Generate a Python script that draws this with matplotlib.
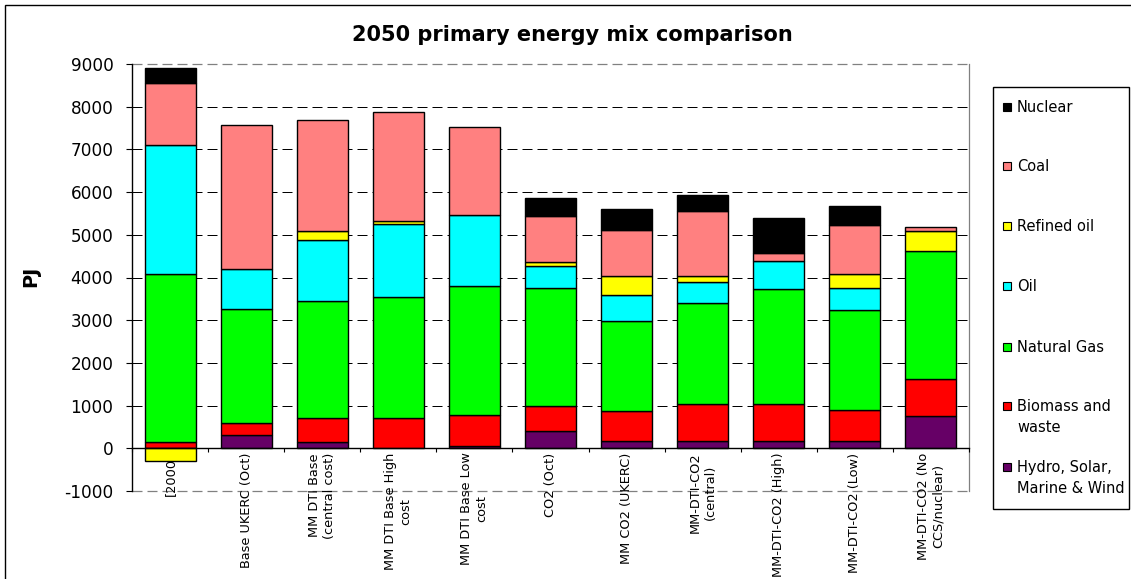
import matplotlib
matplotlib.use("Agg")
import matplotlib.pyplot as plt
from matplotlib.patches import Rectangle
import numpy as np

# ---------------- data ----------------
categories = ["[2000]", "Base UKERC (Oct)", "MM DTI Base\n(central cost)",
              "MM DTI Base High\ncost", "MM DTI Base Low\ncost", "CO2 (Oct)",
              "MM CO2 (UKERC)", "MM-DTI-CO2\n(central)", "MM-DTI-CO2 (High)",
              "MM-DTI-CO2 (Low)", "MM-DTI-CO2 (No\nCCS/nuclear)"]

hydro    = [0, 305, 155, 0, 60, 415, 180, 180, 180, 180, 750]
biomass  = [145, 280, 560, 715, 720, 575, 685, 865, 865, 710, 865]
gas      = [3930, 2670, 2740, 2830, 3015, 2755, 2125, 2360, 2680, 2355, 3000]
oil      = [3020, 945, 1420, 1710, 1665, 525, 595, 490, 655, 500, 0]
refined  = [-300, 0, 220, 65, 0, 85, 445, 135, 0, 335, 475]
coal     = [1470, 3370, 2600, 2560, 2070, 1090, 1090, 1535, 200, 1155, 95]
nuclear  = [330, 0, 0, 0, 0, 410, 490, 375, 820, 440, 0]

series_names = ["Hydro, Solar,\nMarine & Wind", "Biomass and\nwaste", "Natural Gas",
                "Oil", "Refined oil", "Coal", "Nuclear"]
series_values = [hydro, biomass, gas, oil, refined, coal, nuclear]
series_colors = ["#660066", "#FF0000", "#00FF00", "#00FFFF", "#FFFF00", "#FF8080", "#000000"]

yticks = list(range(-1000, 9001, 1000))
title = "2050 primary energy mix comparison"
ylabel = "PJ"

# ---------------- layout ----------------
W, H = 1131, 579
fig = plt.figure(figsize=(W / 100, H / 100), dpi=100)
plt.rcParams['font.family'] = ['DejaVu Sans']


def fx(px):
    return px / W


def fy(py):
    return 1 - py / H


ax = fig.add_axes([fx(132), fy(491), fx(969) - fx(132), fy(64) - fy(491)])
x = np.arange(len(categories))

pos_bottom = np.zeros(len(x))
neg_bottom = np.zeros(len(x))
for vals, col in zip(series_values, series_colors):
    v = np.array(vals, dtype=float)
    bottoms = np.where(v >= 0, pos_bottom, neg_bottom)
    mask = v != 0
    ax.bar(x[mask], v[mask], bottom=bottoms[mask], width=0.67, color=col,
           edgecolor='black', linewidth=1.0, zorder=3)
    pos_bottom += np.where(v > 0, v, 0)
    neg_bottom += np.where(v < 0, v, 0)

ax.set_xlim(-0.5, len(categories) - 0.5)
ax.set_ylim(yticks[0], yticks[-1])

# gridlines
for yv in yticks[1:-1]:
    if yv != 0:
        ax.axhline(yv, color='black', linewidth=0.72, linestyle=(0, (10, 5)), zorder=1)
# plot area border
ax.axhline(yticks[-1], color='#808080', linewidth=0.9, linestyle=(0, (8, 4)), zorder=1, clip_on=False)
ax.axhline(yticks[0], color='#808080', linewidth=0.9, linestyle=(0, (8, 4)), zorder=1, clip_on=False)
ax.axvline(len(categories) - 0.5, color='#808080', linewidth=0.9, zorder=1, clip_on=False)

for s in ['top', 'right']:
    ax.spines[s].set_visible(False)
ax.spines['left'].set_color('black')
ax.spines['left'].set_linewidth(1.0)
ax.spines['bottom'].set_position(('data', 0))
ax.spines['bottom'].set_color('black')
ax.spines['bottom'].set_linewidth(1.0)
ax.spines['bottom'].set_zorder(4)

ax.set_yticks(yticks)
ax.set_yticklabels([str(t) for t in yticks])
ax.tick_params(axis='y', length=4.3, width=0.8, pad=9, labelsize=12.2, direction='out')

ax.set_xticks(x)
ax.set_xticklabels(categories, rotation=90, fontsize=9.3, multialignment='center')
ax.tick_params(axis='x', which='major', length=0, pad=3)
ax.set_xticks(np.arange(-0.5, len(categories), 1.0), minor=True)
ax.tick_params(axis='x', which='minor', length=3, width=0.8, direction='out')

# title and axis label
fig.text(fx(572), fy(41), title, ha='center', va='baseline', fontsize=15, fontweight='bold')
fig.text(fx(31), fy(276), ylabel, rotation=90, ha='center', va='center', fontsize=14, fontweight='bold')

# outer frame
fig.add_artist(Rectangle((fx(5), fy(700)), 2.0, fy(5) - fy(700), transform=fig.transFigure,
                         fill=False, edgecolor='black', linewidth=1.0))

# legend box
fig.add_artist(Rectangle((fx(993), fy(509)), fx(1129) - fx(993), fy(87) - fy(509),
                         transform=fig.transFigure, facecolor='white', edgecolor='black', linewidth=1.0))
legend_rows = [107, 166, 226, 286, 347, 406, 467]  # top-to-bottom row centres (px)
for name, col, yrow in zip(series_names[::-1], series_colors[::-1], legend_rows):
    fig.add_artist(Rectangle((fx(1003), fy(yrow + 4)), fx(8), fy(yrow - 4) - fy(yrow + 4),
                             transform=fig.transFigure, facecolor=col, edgecolor='black', linewidth=0.8))
    for i, line in enumerate(name.split("\n")):
        fig.text(fx(1017), fy(yrow + 5 + 21 * i), line, ha='left', va='baseline', fontsize=10.5)

fig.savefig("out.png", dpi=100)
